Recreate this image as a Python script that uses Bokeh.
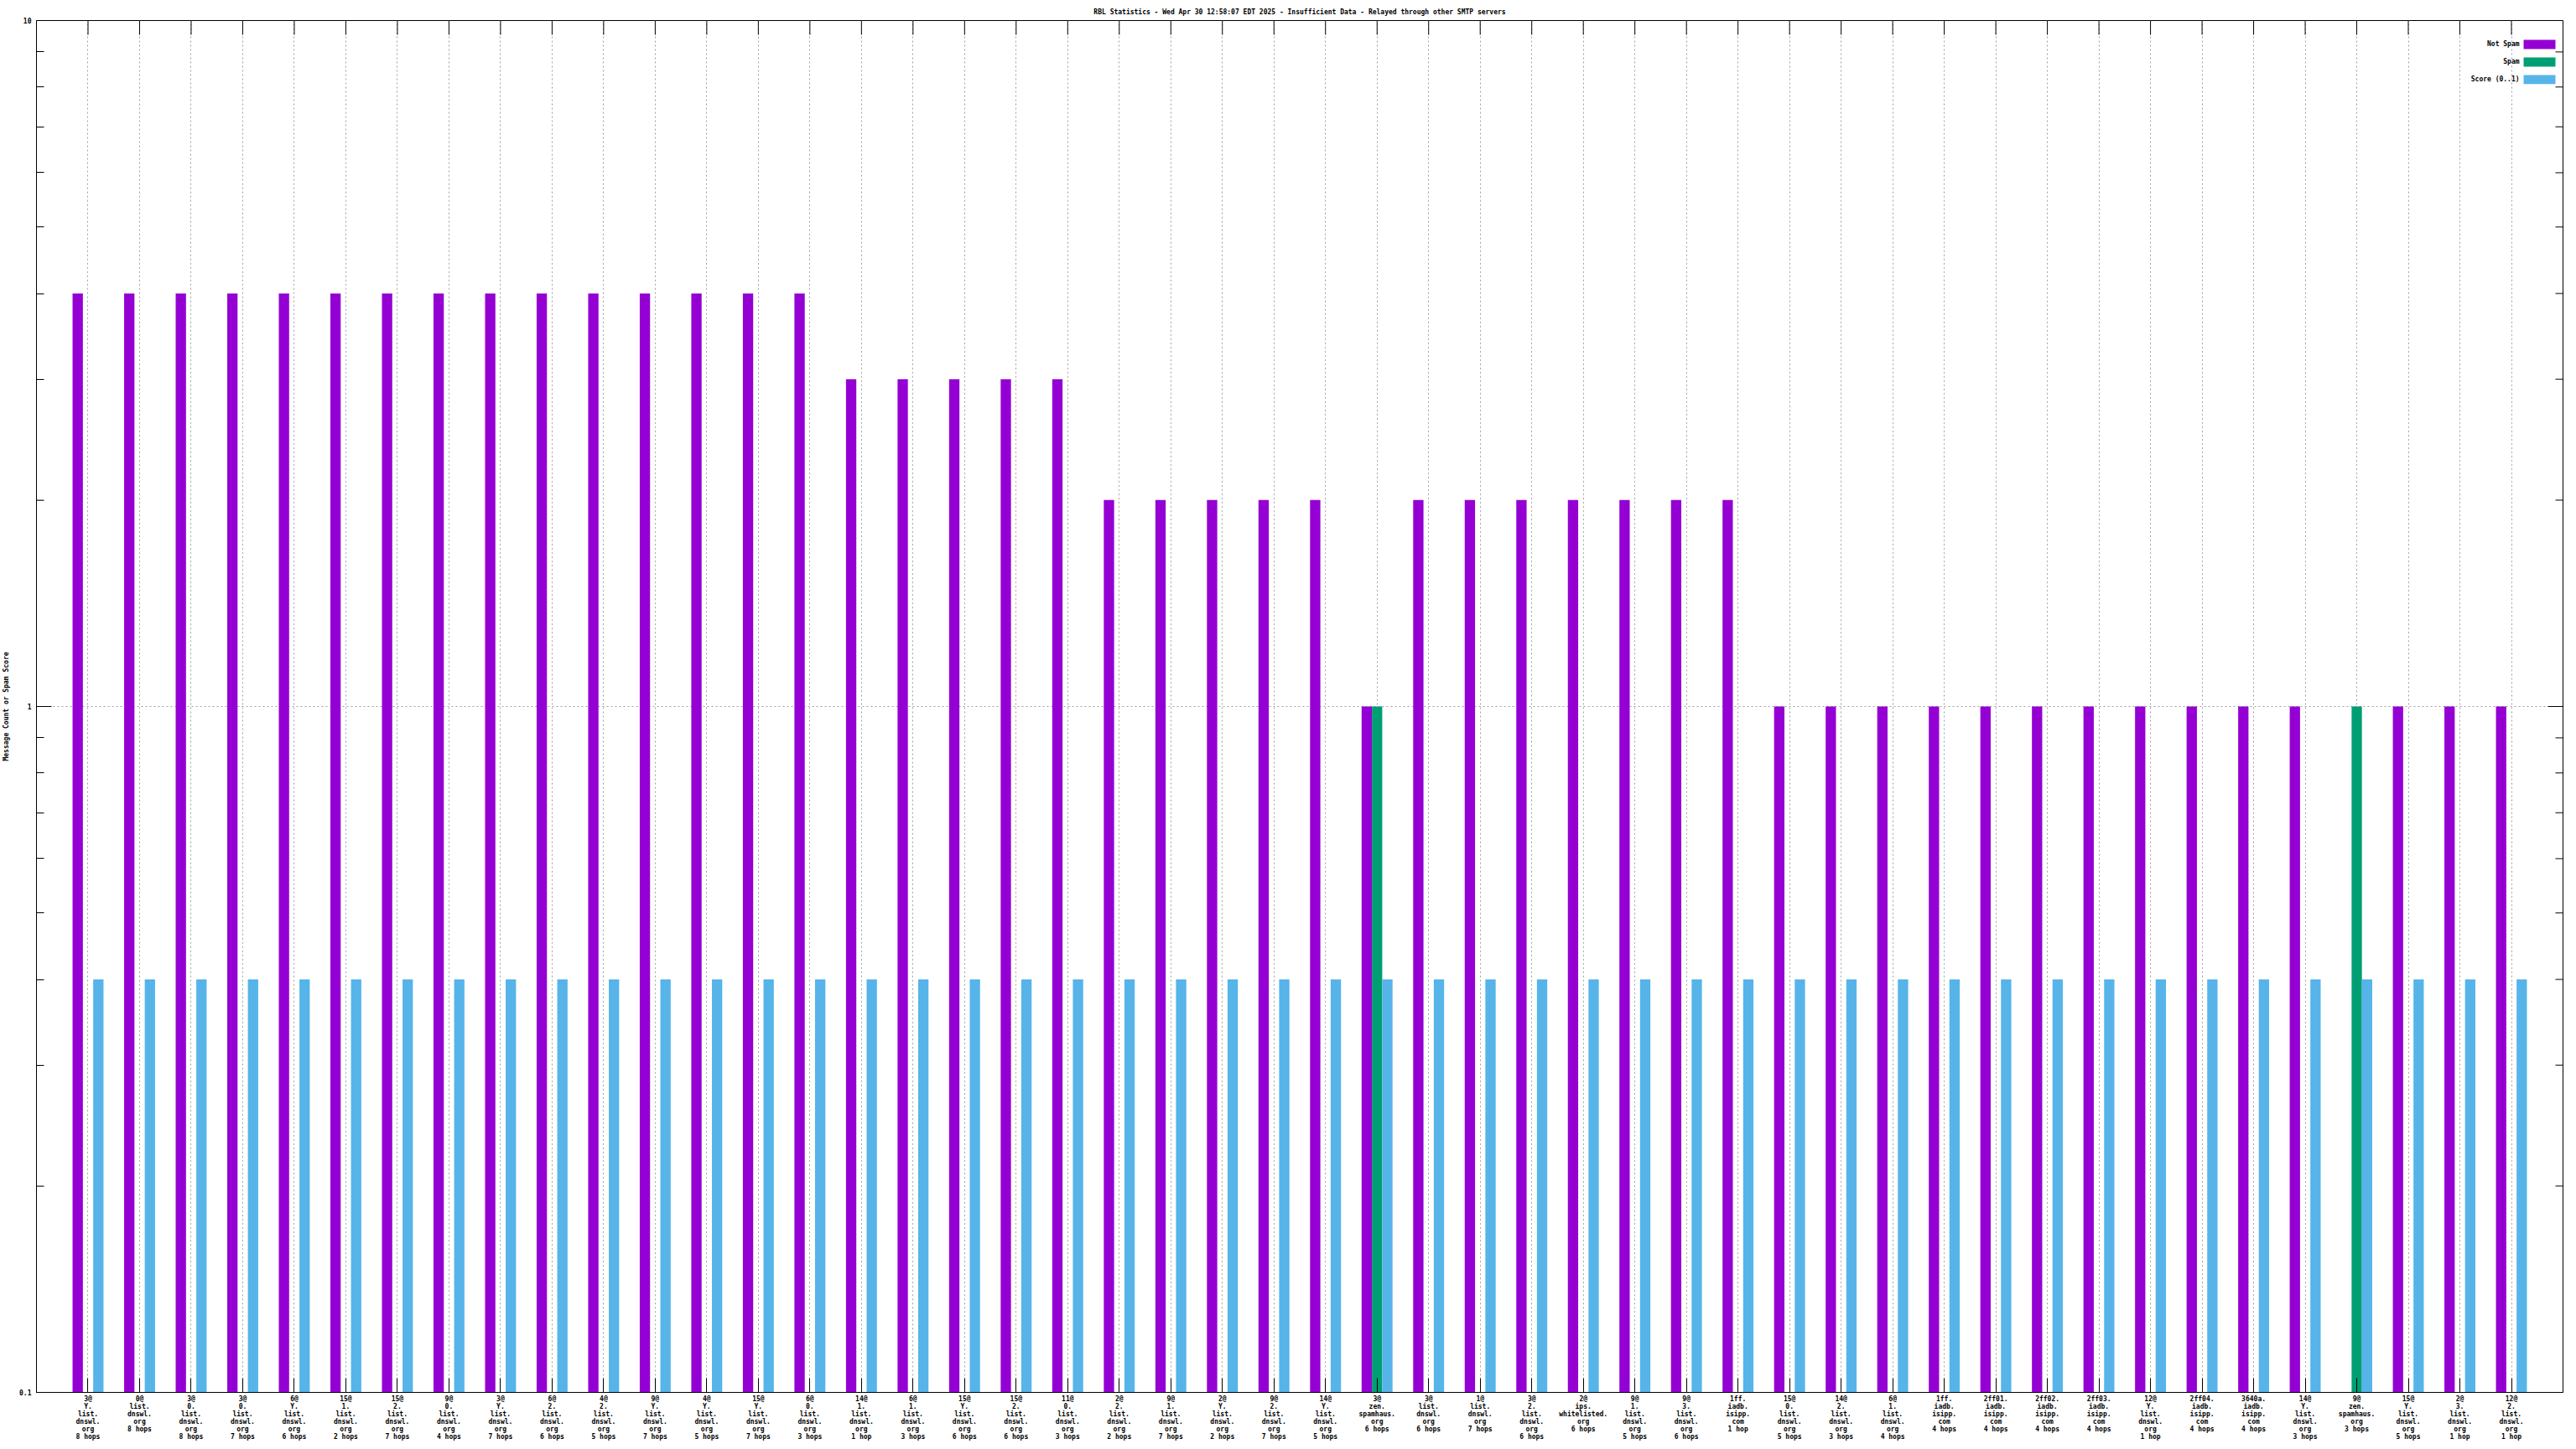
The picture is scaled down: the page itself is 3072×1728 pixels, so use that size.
import numpy as np
from bokeh.plotting import figure
from bokeh.models import (Range1d, FixedTicker, CustomJSTickFormatter,
                          Label, BoxAnnotation, ColumnDataSource)
from bokeh.transform import dodge
from bokeh.embed import file_html
from bokeh.resources import INLINE

title_text = ("RBL Statistics - Wed Apr 30 12:58:07 EDT 2025 - Insufficient Data - "
              "Relayed through other SMTP servers")

categories = [
    "3@\nY.\nlist.\ndnswl.\norg\n8 hops",
    "0@\nlist.\ndnswl.\norg\n8 hops",
    "3@\n0.\nlist.\ndnswl.\norg\n8 hops",
    "3@\n0.\nlist.\ndnswl.\norg\n7 hops",
    "6@\nY.\nlist.\ndnswl.\norg\n6 hops",
    "15@\n1.\nlist.\ndnswl.\norg\n2 hops",
    "15@\n2.\nlist.\ndnswl.\norg\n7 hops",
    "9@\n0.\nlist.\ndnswl.\norg\n4 hops",
    "3@\nY.\nlist.\ndnswl.\norg\n7 hops",
    "6@\n2.\nlist.\ndnswl.\norg\n6 hops",
    "4@\n2.\nlist.\ndnswl.\norg\n5 hops",
    "9@\nY.\nlist.\ndnswl.\norg\n7 hops",
    "4@\nY.\nlist.\ndnswl.\norg\n5 hops",
    "15@\nY.\nlist.\ndnswl.\norg\n7 hops",
    "6@\n0.\nlist.\ndnswl.\norg\n3 hops",
    "14@\n1.\nlist.\ndnswl.\norg\n1 hop",
    "6@\n1.\nlist.\ndnswl.\norg\n3 hops",
    "15@\nY.\nlist.\ndnswl.\norg\n6 hops",
    "15@\n2.\nlist.\ndnswl.\norg\n6 hops",
    "11@\n0.\nlist.\ndnswl.\norg\n3 hops",
    "2@\n2.\nlist.\ndnswl.\norg\n2 hops",
    "9@\n1.\nlist.\ndnswl.\norg\n7 hops",
    "2@\nY.\nlist.\ndnswl.\norg\n2 hops",
    "9@\n2.\nlist.\ndnswl.\norg\n7 hops",
    "14@\nY.\nlist.\ndnswl.\norg\n5 hops",
    "3@\nzen.\nspamhaus.\norg\n6 hops",
    "3@\nlist.\ndnswl.\norg\n6 hops",
    "1@\nlist.\ndnswl.\norg\n7 hops",
    "3@\n2.\nlist.\ndnswl.\norg\n6 hops",
    "2@\nips.\nwhitelisted.\norg\n6 hops",
    "9@\n1.\nlist.\ndnswl.\norg\n5 hops",
    "9@\n3.\nlist.\ndnswl.\norg\n6 hops",
    "1ff.\niadb.\nisipp.\ncom\n1 hop",
    "15@\n0.\nlist.\ndnswl.\norg\n5 hops",
    "14@\n2.\nlist.\ndnswl.\norg\n3 hops",
    "6@\n1.\nlist.\ndnswl.\norg\n4 hops",
    "1ff.\niadb.\nisipp.\ncom\n4 hops",
    "2ff01.\niadb.\nisipp.\ncom\n4 hops",
    "2ff02.\niadb.\nisipp.\ncom\n4 hops",
    "2ff03.\niadb.\nisipp.\ncom\n4 hops",
    "12@\nY.\nlist.\ndnswl.\norg\n1 hop",
    "2ff04.\niadb.\nisipp.\ncom\n4 hops",
    "3640a.\niadb.\nisipp.\ncom\n4 hops",
    "14@\nY.\nlist.\ndnswl.\norg\n3 hops",
    "9@\nzen.\nspamhaus.\norg\n3 hops",
    "15@\nY.\nlist.\ndnswl.\norg\n5 hops",
    "2@\n3.\nlist.\ndnswl.\norg\n1 hop",
    "12@\n2.\nlist.\ndnswl.\norg\n1 hop",
]

nan = float("nan")
not_spam = [4, 4, 4, 4, 4, 4, 4, 4, 4, 4, 4, 4, 4, 4, 4,
            3, 3, 3, 3, 3,
            2, 2, 2, 2, 2,
            1,
            2, 2, 2, 2, 2, 2, 2,
            1, 1, 1, 1, 1, 1, 1, 1, 1, 1, 1,
            nan,
            1, 1, 1]
spam = [nan, nan, nan, nan, nan, nan, nan, nan, nan, nan, nan, nan, nan, nan, nan,
        nan, nan, nan, nan, nan,
        nan, nan, nan, nan, nan,
        1,
        nan, nan, nan, nan, nan, nan, nan,
        nan, nan, nan, nan, nan, nan, nan, nan, nan, nan, nan,
        1,
        nan, nan, nan]
score = [0.4, 0.4, 0.4, 0.4, 0.4, 0.4, 0.4, 0.4, 0.4, 0.4, 0.4, 0.4, 0.4, 0.4, 0.4,
         0.4, 0.4, 0.4, 0.4, 0.4,
         0.4, 0.4, 0.4, 0.4, 0.4,
         0.4,
         0.4, 0.4, 0.4, 0.4, 0.4, 0.4, 0.4,
         0.4, 0.4, 0.4, 0.4, 0.4, 0.4, 0.4, 0.4, 0.4, 0.4, 0.4,
         0.4,
         0.4, 0.4, 0.4]

series_names = ["Not Spam", "Spam", "Score (0..1)"]
series_colors = ["#9400d3", "#009e73", "#56b4e9"]

y_major = [0.1, 1, 10]
y_minor = [0.2, 0.3, 0.4, 0.5, 0.6, 0.7, 0.8, 0.9, 2, 3, 4, 5, 6, 7, 8, 9]

FONT = "DejaVu Sans Mono"
FS = "8px"
FSTYLE = "bold"

idx = list(range(len(categories)))
src = ColumnDataSource(dict(idx=idx, not_spam=not_spam, spam=spam, score=score))

x0, x1 = -1, len(categories)
y0, y1 = 0.1, 10

W, H = 3064, 1720
ML, MR, MT, MB = 40, 8, 24, 57
frame_w = W - ML - MR
frame_h = H - MT - MB

p = figure(width=W, height=H, y_axis_type="log",
           x_range=Range1d(x0, x1), y_range=Range1d(y0, y1),
           output_backend="svg", toolbar_location=None,
           min_border_left=ML, min_border_right=MR, min_border_top=MT, min_border_bottom=MB,
           title=title_text)
p.background_fill_color = "white"
p.border_fill_color = "white"
p.outline_line_color = "black"
p.outline_line_width = 1

p.title.text_font = FONT
p.title.text_font_size = FS
p.title.text_font_style = FSTYLE
p.title.text_color = "black"
p.title.align = "center"
p.title.standoff = 11
p.title.text_line_height = 1.0

xt = FixedTicker(ticks=idx, minor_ticks=[])
yt = FixedTicker(ticks=y_major, minor_ticks=y_minor)

xa = p.xaxis[0]
xa.ticker = xt
xa.major_label_overrides = {i: c for i, c in zip(idx, categories)}
xa.major_label_text_font = FONT
xa.major_label_text_font_size = FS
xa.major_label_text_font_style = FSTYLE
xa.major_label_text_color = "black"
xa.major_label_text_line_height = 1.0
xa.major_label_standoff = 3
xa.major_tick_in = 17
xa.major_tick_out = 0
xa.minor_tick_in = 0
xa.minor_tick_out = 0
xa.axis_line_color = "black"
xa.major_tick_line_color = "black"

ya = p.yaxis[0]
ya.ticker = yt
ya.formatter = CustomJSTickFormatter(code="return tick.toString();")
ya.major_label_text_font = FONT
ya.major_label_text_font_size = FS
ya.major_label_text_font_style = FSTYLE
ya.major_label_text_color = "black"
ya.major_label_standoff = 6
ya.major_tick_in = 18
ya.major_tick_out = 0
ya.minor_tick_in = 9
ya.minor_tick_out = 0
ya.axis_label = "Message Count or Spam Score"
ya.axis_label_text_font = FONT
ya.axis_label_text_font_size = FS
ya.axis_label_text_font_style = FSTYLE
ya.axis_label_text_color = "black"
ya.axis_label_standoff = 8
ya.axis_line_color = "black"
ya.major_tick_line_color = "black"
ya.minor_tick_line_color = "black"

p.xgrid[0].ticker = FixedTicker(ticks=idx, minor_ticks=[])
p.xgrid[0].grid_line_color = "#a0a0a0"
p.xgrid[0].grid_line_dash = "2 3"
p.xgrid[0].grid_line_width = 1
p.ygrid[0].ticker = FixedTicker(ticks=[1], minor_ticks=[])
p.ygrid[0].grid_line_color = "#a0a0a0"
p.ygrid[0].grid_line_dash = "2 3"
p.ygrid[0].grid_line_width = 1

bw = 0.2
for field, off, col in zip(["not_spam", "spam", "score"], [-bw, 0.0, bw], series_colors):
    p.vbar(x=dodge("idx", off), top=field, bottom=y0, width=bw, source=src,
           fill_color=col, line_color=None)

# pixel -> data helpers for decorations (mirrored ticks, legend)
px_x = frame_w / (x1 - x0)
px_dec = frame_h / (np.log10(y1) - np.log10(y0))


def fx(px_from_right):
    return x1 - px_from_right / px_x


def fy(px_from_top):
    return 10 ** (np.log10(y1) - px_from_top / px_dec)


# mirrored ticks on top border and right border (gnuplot style)
p.segment(x0=idx, x1=idx, y0=[y1] * len(idx), y1=[fy(17)] * len(idx),
          line_color="black", line_width=1)
p.segment(x0=[x1] * len(y_major), x1=[fx(18)] * len(y_major), y0=y_major, y1=y_major,
          line_color="black", line_width=1)
p.segment(x0=[x1] * len(y_minor), x1=[fx(9)] * len(y_minor), y0=y_minor, y1=y_minor,
          line_color="black", line_width=1)

# legend (top-right inside the frame, text left of colour box)
row_px = [28.5, 49.5, 70.5]
for name, col, r in zip(series_names, series_colors, row_px):
    p.add_layout(BoxAnnotation(left=fx(47), right=fx(9), top=fy(r - 5.5), bottom=fy(r + 5.5),
                               fill_color=col, fill_alpha=1.0, line_color=None))
    p.add_layout(Label(x=fx(52), y=fy(r), text=name, text_align="right",
                       text_baseline="middle", text_font=FONT, text_font_size=FS,
                       text_font_style=FSTYLE, text_color="black"))

open("out.html", "w").write(file_html(p, INLINE))
